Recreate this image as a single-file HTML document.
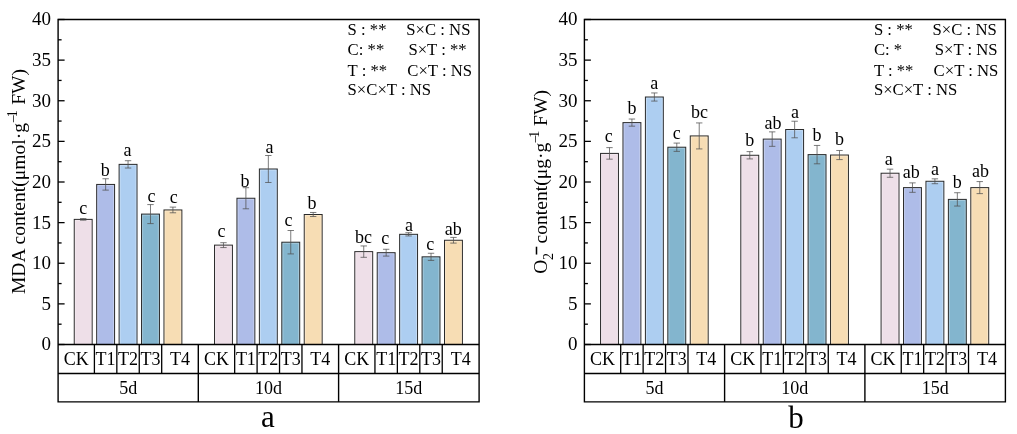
<!DOCTYPE html>
<html><head><meta charset="utf-8"><style>
html,body{margin:0;padding:0;background:#fff;width:1017px;height:434px;overflow:hidden}
svg{display:block;font-family:"Liberation Serif", serif;will-change:transform}
</style></head><body>
<svg width="1017" height="434" viewBox="0 0 1017 434" font-family='"Liberation Serif", serif' fill="#000">
<rect width="1017" height="434" fill="#fff"/>
<rect x="74.25" y="219.38" width="17.90" height="125.12" fill="#eedfe8" stroke="#2a2a2a" stroke-width="1.0"/>
<path d="M75.35 344.50V220.47H91.05V344.50" fill="none" stroke="#fff" stroke-opacity="0.35" stroke-width="0.8"/>
<path d="M83.20 218.56V220.19M80.00 218.56H86.40M80.00 220.19H86.40" stroke="#505050" stroke-width="0.75" fill="none"/>
<text x="83.30" y="214.40" text-anchor="middle" font-size="18">c</text>
<rect x="96.68" y="184.44" width="17.90" height="160.06" fill="#aebce8" stroke="#2a2a2a" stroke-width="1.0"/>
<path d="M97.78 344.50V185.54H113.48V344.50" fill="none" stroke="#fff" stroke-opacity="0.35" stroke-width="0.8"/>
<path d="M105.63 178.75V190.12M102.43 178.75H108.83M102.43 190.12H108.83" stroke="#505050" stroke-width="0.75" fill="none"/>
<text x="105.20" y="176.30" text-anchor="middle" font-size="18">b</text>
<rect x="119.11" y="164.37" width="17.90" height="180.13" fill="#adcef1" stroke="#2a2a2a" stroke-width="1.0"/>
<path d="M120.21 344.50V165.47H135.91V344.50" fill="none" stroke="#fff" stroke-opacity="0.35" stroke-width="0.8"/>
<path d="M128.06 160.71V168.02M124.86 160.71H131.26M124.86 168.02H131.26" stroke="#505050" stroke-width="0.75" fill="none"/>
<text x="127.40" y="156.30" text-anchor="middle" font-size="18">a</text>
<rect x="141.54" y="214.09" width="17.90" height="130.41" fill="#83b5ce" stroke="#2a2a2a" stroke-width="1.0"/>
<path d="M142.64 344.50V215.19H158.34V344.50" fill="none" stroke="#fff" stroke-opacity="0.35" stroke-width="0.8"/>
<path d="M150.49 204.59V223.60M147.29 204.59H153.69M147.29 223.60H153.69" stroke="#505050" stroke-width="0.75" fill="none"/>
<text x="151.40" y="202.10" text-anchor="middle" font-size="18">c</text>
<rect x="163.97" y="209.95" width="17.90" height="134.55" fill="#f7ddb4" stroke="#2a2a2a" stroke-width="1.0"/>
<path d="M165.07 344.50V211.05H180.77V344.50" fill="none" stroke="#fff" stroke-opacity="0.35" stroke-width="0.8"/>
<path d="M172.92 207.11V212.79M169.72 207.11H176.12M169.72 212.79H176.12" stroke="#505050" stroke-width="0.75" fill="none"/>
<text x="173.70" y="202.80" text-anchor="middle" font-size="18">c</text>
<rect x="214.52" y="245.13" width="17.90" height="99.37" fill="#eedfe8" stroke="#2a2a2a" stroke-width="1.0"/>
<path d="M215.62 344.50V246.23H231.32V344.50" fill="none" stroke="#fff" stroke-opacity="0.35" stroke-width="0.8"/>
<path d="M223.47 242.69V247.57M220.27 242.69H226.67M220.27 247.57H226.67" stroke="#505050" stroke-width="0.75" fill="none"/>
<text x="221.50" y="237.10" text-anchor="middle" font-size="18">c</text>
<rect x="236.95" y="198.25" width="17.90" height="146.25" fill="#aebce8" stroke="#2a2a2a" stroke-width="1.0"/>
<path d="M238.05 344.50V199.35H253.75V344.50" fill="none" stroke="#fff" stroke-opacity="0.35" stroke-width="0.8"/>
<path d="M245.90 187.69V208.81M242.70 187.69H249.10M242.70 208.81H249.10" stroke="#505050" stroke-width="0.75" fill="none"/>
<text x="245.10" y="186.60" text-anchor="middle" font-size="18">b</text>
<rect x="259.38" y="169.00" width="17.90" height="175.50" fill="#adcef1" stroke="#2a2a2a" stroke-width="1.0"/>
<path d="M260.48 344.50V170.10H276.18V344.50" fill="none" stroke="#fff" stroke-opacity="0.35" stroke-width="0.8"/>
<path d="M268.33 155.51V182.49M265.13 155.51H271.53M265.13 182.49H271.53" stroke="#505050" stroke-width="0.75" fill="none"/>
<text x="269.50" y="152.80" text-anchor="middle" font-size="18">a</text>
<rect x="281.81" y="242.21" width="17.90" height="102.29" fill="#83b5ce" stroke="#2a2a2a" stroke-width="1.0"/>
<path d="M282.91 344.50V243.31H298.61V344.50" fill="none" stroke="#fff" stroke-opacity="0.35" stroke-width="0.8"/>
<path d="M290.76 230.51V253.91M287.56 230.51H293.96M287.56 253.91H293.96" stroke="#505050" stroke-width="0.75" fill="none"/>
<text x="288.60" y="225.90" text-anchor="middle" font-size="18">c</text>
<rect x="304.24" y="214.50" width="17.90" height="130.00" fill="#f7ddb4" stroke="#2a2a2a" stroke-width="1.0"/>
<path d="M305.34 344.50V215.60H321.04V344.50" fill="none" stroke="#fff" stroke-opacity="0.35" stroke-width="0.8"/>
<path d="M313.19 212.47V216.53M309.99 212.47H316.39M309.99 216.53H316.39" stroke="#505050" stroke-width="0.75" fill="none"/>
<text x="312.10" y="208.60" text-anchor="middle" font-size="18">b</text>
<rect x="354.79" y="251.63" width="17.90" height="92.87" fill="#eedfe8" stroke="#2a2a2a" stroke-width="1.0"/>
<path d="M355.89 344.50V252.73H371.59V344.50" fill="none" stroke="#fff" stroke-opacity="0.35" stroke-width="0.8"/>
<path d="M363.74 245.94V257.32M360.54 245.94H366.94M360.54 257.32H366.94" stroke="#505050" stroke-width="0.75" fill="none"/>
<text x="363.40" y="242.80" text-anchor="middle" font-size="18">bc</text>
<rect x="377.22" y="252.69" width="17.90" height="91.81" fill="#aebce8" stroke="#2a2a2a" stroke-width="1.0"/>
<path d="M378.32 344.50V253.79H394.02V344.50" fill="none" stroke="#fff" stroke-opacity="0.35" stroke-width="0.8"/>
<path d="M386.17 249.28V256.10M382.97 249.28H389.37M382.97 256.10H389.37" stroke="#505050" stroke-width="0.75" fill="none"/>
<text x="385.30" y="243.80" text-anchor="middle" font-size="18">c</text>
<rect x="399.65" y="234.32" width="17.90" height="110.18" fill="#adcef1" stroke="#2a2a2a" stroke-width="1.0"/>
<path d="M400.75 344.50V235.42H416.45V344.50" fill="none" stroke="#fff" stroke-opacity="0.35" stroke-width="0.8"/>
<path d="M408.60 232.70V235.95M405.40 232.70H411.80M405.40 235.95H411.80" stroke="#505050" stroke-width="0.75" fill="none"/>
<text x="409.00" y="231.20" text-anchor="middle" font-size="18">a</text>
<rect x="422.08" y="256.83" width="17.90" height="87.67" fill="#83b5ce" stroke="#2a2a2a" stroke-width="1.0"/>
<path d="M423.18 344.50V257.93H438.88V344.50" fill="none" stroke="#fff" stroke-opacity="0.35" stroke-width="0.8"/>
<path d="M431.03 253.26V260.41M427.83 253.26H434.23M427.83 260.41H434.23" stroke="#505050" stroke-width="0.75" fill="none"/>
<text x="430.30" y="250.10" text-anchor="middle" font-size="18">c</text>
<rect x="444.51" y="240.26" width="17.90" height="104.24" fill="#f7ddb4" stroke="#2a2a2a" stroke-width="1.0"/>
<path d="M445.61 344.50V241.36H461.31V344.50" fill="none" stroke="#fff" stroke-opacity="0.35" stroke-width="0.8"/>
<path d="M453.46 237.41V243.10M450.26 237.41H456.66M450.26 243.10H456.66" stroke="#505050" stroke-width="0.75" fill="none"/>
<text x="453.30" y="234.90" text-anchor="middle" font-size="18">ab</text>
<path d="M58.10 344.50H64.60" stroke="#000" stroke-width="1.3"/>
<text x="51.10" y="350.40" text-anchor="end" font-size="19">0</text>
<path d="M58.10 324.19H61.60" stroke="#000" stroke-width="1.3"/>
<path d="M58.10 303.88H64.60" stroke="#000" stroke-width="1.3"/>
<text x="51.10" y="309.77" text-anchor="end" font-size="19">5</text>
<path d="M58.10 283.56H61.60" stroke="#000" stroke-width="1.3"/>
<path d="M58.10 263.25H64.60" stroke="#000" stroke-width="1.3"/>
<text x="51.10" y="269.15" text-anchor="end" font-size="19">10</text>
<path d="M58.10 242.94H61.60" stroke="#000" stroke-width="1.3"/>
<path d="M58.10 222.62H64.60" stroke="#000" stroke-width="1.3"/>
<text x="51.10" y="228.53" text-anchor="end" font-size="19">15</text>
<path d="M58.10 202.31H61.60" stroke="#000" stroke-width="1.3"/>
<path d="M58.10 182.00H64.60" stroke="#000" stroke-width="1.3"/>
<text x="51.10" y="187.90" text-anchor="end" font-size="19">20</text>
<path d="M58.10 161.69H61.60" stroke="#000" stroke-width="1.3"/>
<path d="M58.10 141.38H64.60" stroke="#000" stroke-width="1.3"/>
<text x="51.10" y="147.28" text-anchor="end" font-size="19">25</text>
<path d="M58.10 121.06H61.60" stroke="#000" stroke-width="1.3"/>
<path d="M58.10 100.75H64.60" stroke="#000" stroke-width="1.3"/>
<text x="51.10" y="106.65" text-anchor="end" font-size="19">30</text>
<path d="M58.10 80.44H61.60" stroke="#000" stroke-width="1.3"/>
<path d="M58.10 60.12H64.60" stroke="#000" stroke-width="1.3"/>
<text x="51.10" y="66.03" text-anchor="end" font-size="19">35</text>
<path d="M58.10 39.81H61.60" stroke="#000" stroke-width="1.3"/>
<path d="M58.10 19.50H64.60" stroke="#000" stroke-width="1.3"/>
<text x="51.10" y="25.40" text-anchor="end" font-size="19">40</text>
<path d="M58.10 401.90V19.50H479.10V401.90Z" stroke="#000" stroke-width="1.4" fill="none"/>
<path d="M58.10 344.50H479.10M58.10 373.50H479.10" stroke="#000" stroke-width="1.4" fill="none"/>
<path d="M94.40 344.50V373.50" stroke="#000" stroke-width="1.3"/>
<path d="M116.83 344.50V373.50" stroke="#000" stroke-width="1.3"/>
<path d="M139.26 344.50V373.50" stroke="#000" stroke-width="1.3"/>
<path d="M161.69 344.50V373.50" stroke="#000" stroke-width="1.3"/>
<text x="76.25" y="365.2" text-anchor="middle" font-size="18">CK</text>
<text x="105.62" y="365.2" text-anchor="middle" font-size="18">T1</text>
<text x="128.04" y="365.2" text-anchor="middle" font-size="18">T2</text>
<text x="150.47" y="365.2" text-anchor="middle" font-size="18">T3</text>
<text x="180.00" y="365.2" text-anchor="middle" font-size="18">T4</text>
<text x="128.20" y="393.9" text-anchor="middle" font-size="18">5d</text>
<path d="M198.30 344.50V401.90" stroke="#000" stroke-width="1.4"/>
<path d="M234.67 344.50V373.50" stroke="#000" stroke-width="1.3"/>
<path d="M257.10 344.50V373.50" stroke="#000" stroke-width="1.3"/>
<path d="M279.53 344.50V373.50" stroke="#000" stroke-width="1.3"/>
<path d="M301.96 344.50V373.50" stroke="#000" stroke-width="1.3"/>
<text x="216.49" y="365.2" text-anchor="middle" font-size="18">CK</text>
<text x="245.89" y="365.2" text-anchor="middle" font-size="18">T1</text>
<text x="268.32" y="365.2" text-anchor="middle" font-size="18">T2</text>
<text x="290.75" y="365.2" text-anchor="middle" font-size="18">T3</text>
<text x="320.28" y="365.2" text-anchor="middle" font-size="18">T4</text>
<text x="268.45" y="393.9" text-anchor="middle" font-size="18">10d</text>
<path d="M338.60 344.50V401.90" stroke="#000" stroke-width="1.4"/>
<path d="M374.94 344.50V373.50" stroke="#000" stroke-width="1.3"/>
<path d="M397.37 344.50V373.50" stroke="#000" stroke-width="1.3"/>
<path d="M419.80 344.50V373.50" stroke="#000" stroke-width="1.3"/>
<path d="M442.23 344.50V373.50" stroke="#000" stroke-width="1.3"/>
<text x="356.77" y="365.2" text-anchor="middle" font-size="18">CK</text>
<text x="386.15" y="365.2" text-anchor="middle" font-size="18">T1</text>
<text x="408.59" y="365.2" text-anchor="middle" font-size="18">T2</text>
<text x="431.01" y="365.2" text-anchor="middle" font-size="18">T3</text>
<text x="460.66" y="365.2" text-anchor="middle" font-size="18">T4</text>
<text x="408.85" y="393.9" text-anchor="middle" font-size="18">15d</text>
<text x="347.60" y="34.60" font-size="16.7">S : **</text>
<text x="406.30" y="34.60" font-size="16.7">S×C : NS</text>
<text x="347.60" y="54.80" font-size="16.7">C: **</text>
<text x="408.40" y="54.80" font-size="16.7">S×T : **</text>
<text x="347.60" y="75.50" font-size="16.7">T : **</text>
<text x="407.30" y="75.50" font-size="16.7">C×T : NS</text>
<text x="347.60" y="95.40" font-size="16.7">S×C×T : NS</text>
<g transform="translate(24.6 294.07) rotate(-90)"><text x="0.00" y="0.00" font-size="19.6">MDA content(μmol·g</text><text x="171.80" y="-8.00" font-size="14">–</text><text x="176.90" y="-8.00" font-size="14">1</text><text x="189.30" y="0.00" font-size="19.6">FW)</text></g>
<text x="267.80" y="427.40" text-anchor="middle" font-size="31">a</text>
<rect x="600.55" y="153.40" width="17.90" height="191.10" fill="#eedfe8" stroke="#2a2a2a" stroke-width="1.0"/>
<path d="M601.65 344.50V154.50H617.35V344.50" fill="none" stroke="#fff" stroke-opacity="0.35" stroke-width="0.8"/>
<path d="M609.50 147.63V159.17M606.30 147.63H612.70M606.30 159.17H612.70" stroke="#505050" stroke-width="0.75" fill="none"/>
<text x="608.80" y="142.30" text-anchor="middle" font-size="18">c</text>
<rect x="622.98" y="122.61" width="17.90" height="221.89" fill="#aebce8" stroke="#2a2a2a" stroke-width="1.0"/>
<path d="M624.08 344.50V123.71H639.78V344.50" fill="none" stroke="#fff" stroke-opacity="0.35" stroke-width="0.8"/>
<path d="M631.93 119.03V126.18M628.73 119.03H635.13M628.73 126.18H635.13" stroke="#505050" stroke-width="0.75" fill="none"/>
<text x="631.93" y="113.50" text-anchor="middle" font-size="18">b</text>
<rect x="645.41" y="97.01" width="17.90" height="247.49" fill="#adcef1" stroke="#2a2a2a" stroke-width="1.0"/>
<path d="M646.51 344.50V98.11H662.21V344.50" fill="none" stroke="#fff" stroke-opacity="0.35" stroke-width="0.8"/>
<path d="M654.36 92.95V101.07M651.16 92.95H657.56M651.16 101.07H657.56" stroke="#505050" stroke-width="0.75" fill="none"/>
<text x="654.36" y="89.30" text-anchor="middle" font-size="18">a</text>
<rect x="667.84" y="147.22" width="17.90" height="197.28" fill="#83b5ce" stroke="#2a2a2a" stroke-width="1.0"/>
<path d="M668.94 344.50V148.32H684.64V344.50" fill="none" stroke="#fff" stroke-opacity="0.35" stroke-width="0.8"/>
<path d="M676.79 143.08V151.37M673.59 143.08H679.99M673.59 151.37H679.99" stroke="#505050" stroke-width="0.75" fill="none"/>
<text x="676.79" y="138.80" text-anchor="middle" font-size="18">c</text>
<rect x="690.27" y="135.93" width="17.90" height="208.57" fill="#f7ddb4" stroke="#2a2a2a" stroke-width="1.0"/>
<path d="M691.37 344.50V137.03H707.07V344.50" fill="none" stroke="#fff" stroke-opacity="0.35" stroke-width="0.8"/>
<path d="M699.22 122.93V148.93M696.02 122.93H702.42M696.02 148.93H702.42" stroke="#505050" stroke-width="0.75" fill="none"/>
<text x="699.52" y="118.30" text-anchor="middle" font-size="18">bc</text>
<rect x="740.82" y="155.27" width="17.90" height="189.23" fill="#eedfe8" stroke="#2a2a2a" stroke-width="1.0"/>
<path d="M741.92 344.50V156.37H757.62V344.50" fill="none" stroke="#fff" stroke-opacity="0.35" stroke-width="0.8"/>
<path d="M749.77 151.61V158.93M746.57 151.61H752.97M746.57 158.93H752.97" stroke="#505050" stroke-width="0.75" fill="none"/>
<text x="749.77" y="146.00" text-anchor="middle" font-size="18">b</text>
<rect x="763.25" y="139.10" width="17.90" height="205.40" fill="#aebce8" stroke="#2a2a2a" stroke-width="1.0"/>
<path d="M764.35 344.50V140.20H780.05V344.50" fill="none" stroke="#fff" stroke-opacity="0.35" stroke-width="0.8"/>
<path d="M772.20 131.87V146.33M769.00 131.87H775.40M769.00 146.33H775.40" stroke="#505050" stroke-width="0.75" fill="none"/>
<text x="773.00" y="128.50" text-anchor="middle" font-size="18">ab</text>
<rect x="785.68" y="129.51" width="17.90" height="214.99" fill="#adcef1" stroke="#2a2a2a" stroke-width="1.0"/>
<path d="M786.78 344.50V130.61H802.48V344.50" fill="none" stroke="#fff" stroke-opacity="0.35" stroke-width="0.8"/>
<path d="M794.63 121.22V137.80M791.43 121.22H797.83M791.43 137.80H797.83" stroke="#505050" stroke-width="0.75" fill="none"/>
<text x="795.03" y="117.60" text-anchor="middle" font-size="18">a</text>
<rect x="808.11" y="154.62" width="17.90" height="189.88" fill="#83b5ce" stroke="#2a2a2a" stroke-width="1.0"/>
<path d="M809.21 344.50V155.72H824.91V344.50" fill="none" stroke="#fff" stroke-opacity="0.35" stroke-width="0.8"/>
<path d="M817.06 145.44V163.80M813.86 145.44H820.26M813.86 163.80H820.26" stroke="#505050" stroke-width="0.75" fill="none"/>
<text x="817.06" y="141.00" text-anchor="middle" font-size="18">b</text>
<rect x="830.54" y="155.03" width="17.90" height="189.47" fill="#f7ddb4" stroke="#2a2a2a" stroke-width="1.0"/>
<path d="M831.64 344.50V156.12H847.34V344.50" fill="none" stroke="#fff" stroke-opacity="0.35" stroke-width="0.8"/>
<path d="M839.49 150.47V159.58M836.29 150.47H842.69M836.29 159.58H842.69" stroke="#505050" stroke-width="0.75" fill="none"/>
<text x="839.49" y="144.70" text-anchor="middle" font-size="18">b</text>
<rect x="881.09" y="173.23" width="17.90" height="171.27" fill="#eedfe8" stroke="#2a2a2a" stroke-width="1.0"/>
<path d="M882.19 344.50V174.33H897.89V344.50" fill="none" stroke="#fff" stroke-opacity="0.35" stroke-width="0.8"/>
<path d="M890.04 169.16V177.29M886.84 169.16H893.24M886.84 177.29H893.24" stroke="#505050" stroke-width="0.75" fill="none"/>
<text x="888.74" y="165.30" text-anchor="middle" font-size="18">a</text>
<rect x="903.52" y="187.61" width="17.90" height="156.89" fill="#aebce8" stroke="#2a2a2a" stroke-width="1.0"/>
<path d="M904.62 344.50V188.71H920.32V344.50" fill="none" stroke="#fff" stroke-opacity="0.35" stroke-width="0.8"/>
<path d="M912.47 182.89V192.32M909.27 182.89H915.67M909.27 192.32H915.67" stroke="#505050" stroke-width="0.75" fill="none"/>
<text x="911.17" y="178.00" text-anchor="middle" font-size="18">ab</text>
<rect x="925.95" y="181.27" width="17.90" height="163.23" fill="#adcef1" stroke="#2a2a2a" stroke-width="1.0"/>
<path d="M927.05 344.50V182.37H942.75V344.50" fill="none" stroke="#fff" stroke-opacity="0.35" stroke-width="0.8"/>
<path d="M934.90 178.83V183.71M931.70 178.83H938.10M931.70 183.71H938.10" stroke="#505050" stroke-width="0.75" fill="none"/>
<text x="934.90" y="175.40" text-anchor="middle" font-size="18">a</text>
<rect x="948.38" y="199.39" width="17.90" height="145.11" fill="#83b5ce" stroke="#2a2a2a" stroke-width="1.0"/>
<path d="M949.48 344.50V200.49H965.18V344.50" fill="none" stroke="#fff" stroke-opacity="0.35" stroke-width="0.8"/>
<path d="M957.33 192.73V206.05M954.13 192.73H960.53M954.13 206.05H960.53" stroke="#505050" stroke-width="0.75" fill="none"/>
<text x="957.33" y="187.50" text-anchor="middle" font-size="18">b</text>
<rect x="970.81" y="187.61" width="17.90" height="156.89" fill="#f7ddb4" stroke="#2a2a2a" stroke-width="1.0"/>
<path d="M971.91 344.50V188.71H987.61V344.50" fill="none" stroke="#fff" stroke-opacity="0.35" stroke-width="0.8"/>
<path d="M979.76 181.59V193.62M976.56 181.59H982.96M976.56 193.62H982.96" stroke="#505050" stroke-width="0.75" fill="none"/>
<text x="980.56" y="176.80" text-anchor="middle" font-size="18">ab</text>
<path d="M584.40 344.50H590.90" stroke="#000" stroke-width="1.3"/>
<text x="577.40" y="350.40" text-anchor="end" font-size="19">0</text>
<path d="M584.40 324.19H587.90" stroke="#000" stroke-width="1.3"/>
<path d="M584.40 303.88H590.90" stroke="#000" stroke-width="1.3"/>
<text x="577.40" y="309.77" text-anchor="end" font-size="19">5</text>
<path d="M584.40 283.56H587.90" stroke="#000" stroke-width="1.3"/>
<path d="M584.40 263.25H590.90" stroke="#000" stroke-width="1.3"/>
<text x="577.40" y="269.15" text-anchor="end" font-size="19">10</text>
<path d="M584.40 242.94H587.90" stroke="#000" stroke-width="1.3"/>
<path d="M584.40 222.62H590.90" stroke="#000" stroke-width="1.3"/>
<text x="577.40" y="228.53" text-anchor="end" font-size="19">15</text>
<path d="M584.40 202.31H587.90" stroke="#000" stroke-width="1.3"/>
<path d="M584.40 182.00H590.90" stroke="#000" stroke-width="1.3"/>
<text x="577.40" y="187.90" text-anchor="end" font-size="19">20</text>
<path d="M584.40 161.69H587.90" stroke="#000" stroke-width="1.3"/>
<path d="M584.40 141.38H590.90" stroke="#000" stroke-width="1.3"/>
<text x="577.40" y="147.28" text-anchor="end" font-size="19">25</text>
<path d="M584.40 121.06H587.90" stroke="#000" stroke-width="1.3"/>
<path d="M584.40 100.75H590.90" stroke="#000" stroke-width="1.3"/>
<text x="577.40" y="106.65" text-anchor="end" font-size="19">30</text>
<path d="M584.40 80.44H587.90" stroke="#000" stroke-width="1.3"/>
<path d="M584.40 60.12H590.90" stroke="#000" stroke-width="1.3"/>
<text x="577.40" y="66.03" text-anchor="end" font-size="19">35</text>
<path d="M584.40 39.81H587.90" stroke="#000" stroke-width="1.3"/>
<path d="M584.40 19.50H590.90" stroke="#000" stroke-width="1.3"/>
<text x="577.40" y="25.40" text-anchor="end" font-size="19">40</text>
<path d="M584.40 401.90V19.50H1005.40V401.90Z" stroke="#000" stroke-width="1.4" fill="none"/>
<path d="M584.40 344.50H1005.40M584.40 373.50H1005.40" stroke="#000" stroke-width="1.4" fill="none"/>
<path d="M620.70 344.50V373.50" stroke="#000" stroke-width="1.3"/>
<path d="M643.13 344.50V373.50" stroke="#000" stroke-width="1.3"/>
<path d="M665.56 344.50V373.50" stroke="#000" stroke-width="1.3"/>
<path d="M687.99 344.50V373.50" stroke="#000" stroke-width="1.3"/>
<text x="602.55" y="365.2" text-anchor="middle" font-size="18">CK</text>
<text x="631.91" y="365.2" text-anchor="middle" font-size="18">T1</text>
<text x="654.35" y="365.2" text-anchor="middle" font-size="18">T2</text>
<text x="676.78" y="365.2" text-anchor="middle" font-size="18">T3</text>
<text x="706.29" y="365.2" text-anchor="middle" font-size="18">T4</text>
<text x="654.50" y="393.9" text-anchor="middle" font-size="18">5d</text>
<path d="M724.60 344.50V401.90" stroke="#000" stroke-width="1.4"/>
<path d="M760.97 344.50V373.50" stroke="#000" stroke-width="1.3"/>
<path d="M783.40 344.50V373.50" stroke="#000" stroke-width="1.3"/>
<path d="M805.83 344.50V373.50" stroke="#000" stroke-width="1.3"/>
<path d="M828.26 344.50V373.50" stroke="#000" stroke-width="1.3"/>
<text x="742.78" y="365.2" text-anchor="middle" font-size="18">CK</text>
<text x="772.18" y="365.2" text-anchor="middle" font-size="18">T1</text>
<text x="794.62" y="365.2" text-anchor="middle" font-size="18">T2</text>
<text x="817.05" y="365.2" text-anchor="middle" font-size="18">T3</text>
<text x="846.58" y="365.2" text-anchor="middle" font-size="18">T4</text>
<text x="794.75" y="393.9" text-anchor="middle" font-size="18">10d</text>
<path d="M864.90 344.50V401.90" stroke="#000" stroke-width="1.4"/>
<path d="M901.24 344.50V373.50" stroke="#000" stroke-width="1.3"/>
<path d="M923.67 344.50V373.50" stroke="#000" stroke-width="1.3"/>
<path d="M946.10 344.50V373.50" stroke="#000" stroke-width="1.3"/>
<path d="M968.53 344.50V373.50" stroke="#000" stroke-width="1.3"/>
<text x="883.07" y="365.2" text-anchor="middle" font-size="18">CK</text>
<text x="912.45" y="365.2" text-anchor="middle" font-size="18">T1</text>
<text x="934.88" y="365.2" text-anchor="middle" font-size="18">T2</text>
<text x="957.32" y="365.2" text-anchor="middle" font-size="18">T3</text>
<text x="986.96" y="365.2" text-anchor="middle" font-size="18">T4</text>
<text x="935.15" y="393.9" text-anchor="middle" font-size="18">15d</text>
<text x="873.90" y="34.60" font-size="16.7">S : **</text>
<text x="932.60" y="34.60" font-size="16.7">S×C : NS</text>
<text x="873.90" y="54.80" font-size="16.7">C: *</text>
<text x="934.70" y="54.80" font-size="16.7">S×T : NS</text>
<text x="873.90" y="75.50" font-size="16.7">T : **</text>
<text x="933.60" y="75.50" font-size="16.7">C×T : NS</text>
<text x="873.90" y="95.40" font-size="16.7">S×C×T : NS</text>
<g transform="translate(547.3 273.7) rotate(-90)"><text x="0.00" y="0.00" font-size="19.6">O</text><text x="13.70" y="5.90" font-size="14">2</text><text x="19.8" y="-8.5" font-size="13.5" stroke="#000" stroke-width="0.9">–</text><text x="30.25" y="0.00" font-size="19.6">content(μg·g</text><text x="131.10" y="-8.00" font-size="14">–</text><text x="135.90" y="-8.00" font-size="14">1</text><text x="147.70" y="0.00" font-size="19.6">FW)</text></g>
<text x="796.00" y="428.30" text-anchor="middle" font-size="31">b</text>
</svg>
</body></html>
